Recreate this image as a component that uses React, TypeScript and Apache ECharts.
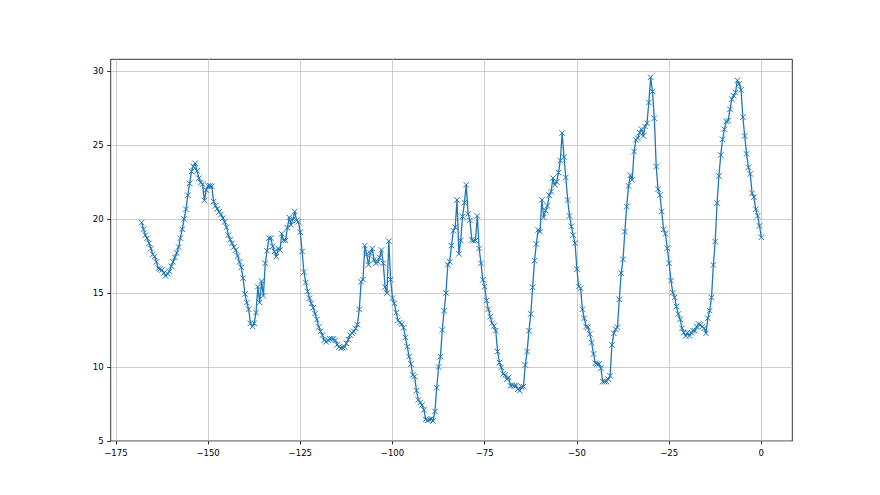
import React, { useEffect, useRef } from "react";
import * as echarts from "echarts";

// Hourly offsets: one reading every half hour, from -168 h to 0 h
const HOURS_START = -168;
const HOURS_STEP = 0.5;

// Values per day (48 half-hour readings each)
const DAY1 = [
  19.75, 19.3, 18.9, 18.7, 18.35, 18.0, 17.6, 17.45, 17.1, 16.65,
  16.6, 16.55, 16.35, 16.15, 16.3, 16.45, 16.8, 17.1, 17.4, 17.7,
  18.1, 18.7, 19.3, 20.0, 20.65, 21.6, 22.4, 23.2, 23.55, 23.75,
  23.25, 22.75, 22.45, 22.35, 21.25, 21.95, 22.23, 22.23, 22.2, 21.17,
  20.88, 20.68, 20.47, 20.3, 20.05, 19.8, 19.44, 18.9,
];
const DAY2 = [
  18.6, 18.35, 18.1, 17.9, 17.5, 17.1, 16.73, 16.0, 14.93, 14.35,
  13.9, 12.95, 12.73, 12.95, 13.67, 15.43, 14.35, 15.8, 14.8, 17.0,
  17.85, 18.7, 18.7, 18.15, 17.8, 17.45, 18.0, 17.9, 19.0, 18.55,
  18.55, 19.4, 20.1, 19.6, 20.0, 20.5, 19.9, 19.8, 19.1, 17.8,
  16.4, 15.7, 15.1, 14.65, 14.3, 14.0, 13.6, 13.2,
];
const DAY3 = [
  12.7, 12.4, 12.15, 11.8, 11.7, 11.8, 11.9, 11.9, 11.9, 11.8,
  11.5, 11.35, 11.28, 11.3, 11.35, 11.6, 11.85, 12.15, 12.3, 12.4,
  12.6, 12.85, 13.9, 15.75, 15.9, 18.2, 17.6, 16.9, 17.7, 18.0,
  17.25, 17.0, 17.1, 17.4, 17.9, 17.0, 15.4, 15.0, 18.5, 15.9,
  14.65, 14.3, 13.67, 13.15, 13.0, 12.9, 12.65, 12.0,
];
const DAY4 = [
  11.37, 10.7, 10.2, 9.46, 9.35, 8.4, 7.77, 7.6, 7.43, 7.1,
  6.46, 6.4, 6.45, 6.5, 6.35, 7.0, 8.6, 10.0, 10.7, 12.5,
  13.8, 15.0, 16.9, 17.1, 18.2, 19.2, 19.44, 21.28, 17.64, 18.54,
  20.16, 21.1, 22.3, 20.34, 19.9, 18.58, 18.54, 18.54, 20.2, 18.0,
  17.0, 15.88, 15.43, 14.5, 13.9, 13.4, 12.95, 12.77,
];
const DAY5 = [
  12.45, 11.04, 10.3, 9.98, 9.53, 9.46, 9.17, 9.3, 8.72, 8.78,
  8.72, 8.74, 8.5, 8.4, 8.67, 8.67, 10.14, 11.04, 12.45, 13.58,
  15.38, 17.18, 18.3, 19.26, 19.14, 21.28, 20.1, 20.56, 20.88, 21.6,
  21.85, 22.75, 22.3, 22.5, 23.13, 23.94, 25.8, 24.17, 22.8, 21.28,
  20.2, 19.5, 18.9, 18.36, 16.6, 15.43, 15.32, 13.9,
];
const DAY6 = [
  13.29, 12.73, 12.68, 12.23, 11.64, 10.88, 10.25, 10.2, 10.2, 9.91,
  9.01, 9.01, 9.01, 9.17, 9.4, 11.49, 12.27, 12.55, 12.68, 14.57,
  16.33, 17.27, 19.14, 20.83, 22.23, 22.95, 22.64, 24.55, 25.34, 25.45,
  25.83, 26.06, 25.6, 26.24, 26.46, 27.86, 29.57, 28.6, 26.8, 23.54,
  22.0, 21.62, 20.5, 19.3, 18.99, 18.02, 17.0, 15.83,
];
const DAY7 = [
  15.02, 14.7, 14.08, 13.58, 13.22, 12.61, 12.32, 12.1, 12.32, 12.1,
  12.32, 12.45, 12.45, 12.73, 12.9, 12.84, 12.73, 12.61, 12.27, 13.29,
  13.8, 14.7, 16.89, 18.47, 21.06, 22.9, 24.32, 25.38, 26.06, 26.58,
  26.64, 27.4, 28.09, 28.31, 28.54, 29.35, 29.12, 28.72, 26.87, 25.6,
  24.39, 23.49, 23.04, 21.73, 21.46, 20.65, 20.2, 19.53, 18.76,
];

const X_TICKS = [-175, -150, -125, -100, -75, -50, -25, 0];
const Y_TICKS = [5, 10, 15, 20, 25, 30];

const fmt = (v: number) => (v < 0 ? "\u2212" + String(Math.abs(v)) : String(v));

export default function App() {
  const ref = useRef<HTMLDivElement>(null);

  useEffect(() => {
    if (!ref.current) return;
    const chart = echarts.init(ref.current, null, { renderer: "svg" });
    const values = [...DAY1, ...DAY2, ...DAY3, ...DAY4, ...DAY5, ...DAY6, ...DAY7];
    const data = values.map((v, i) => [HOURS_START + i * HOURS_STEP, v]);

    const labelStyle = {
      color: "#000",
      fontSize: 8.5,
      fontFamily: "DejaVu Sans",
      margin: 7,
      formatter: (v: number) => fmt(v),
    };

    chart.setOption({
      animation: false,
      backgroundColor: "#ffffff",
      grid: {
        left: 110.7,
        right: 880 - 792.3,
        top: 59.3,
        bottom: 495 - 441,
        show: true,
        borderColor: "#000",
        borderWidth: 0.8,
        backgroundColor: "transparent",
        containLabel: false,
      },
      xAxis: {
        type: "value",
        min: -176.4,
        max: 8.4,
        axisLine: { show: false, onZero: false },
        axisTick: {
          show: true,
          length: 3.5,
          inside: false,
          customValues: X_TICKS,
          lineStyle: { color: "#000", width: 0.8 },
        },
        axisLabel: { ...labelStyle, customValues: X_TICKS },
        splitLine: { show: true, lineStyle: { color: "#c2c2c2", width: 0.8 } },
      },
      yAxis: {
        type: "value",
        min: 5,
        max: 30.78,
        axisLine: { show: false, onZero: false },
        axisTick: {
          show: true,
          length: 3.5,
          inside: false,
          customValues: Y_TICKS,
          lineStyle: { color: "#000", width: 0.8 },
        },
        axisLabel: { ...labelStyle, customValues: Y_TICKS },
        splitLine: { show: true, lineStyle: { color: "#c2c2c2", width: 0.8 } },
      },
      series: [
        {
          type: "line",
          data,
          showSymbol: true,
          showAllSymbol: true,
          symbol: "path://M0,0L10,10M10,0L0,10",
          symbolSize: 5.5,
          lineStyle: { color: "#1f77b4", width: 1.3 },
          itemStyle: { color: "rgba(0,0,0,0)", borderColor: "#1f77b4", borderWidth: 1 },
          emphasis: { disabled: true },
        },
      ],
    });

    return () => chart.dispose();
  }, []);

  return (
    <div
      ref={ref}
      style={{ position: "fixed", left: 0, top: 0, width: 880, height: 495, background: "#fff" }}
    />
  );
}
